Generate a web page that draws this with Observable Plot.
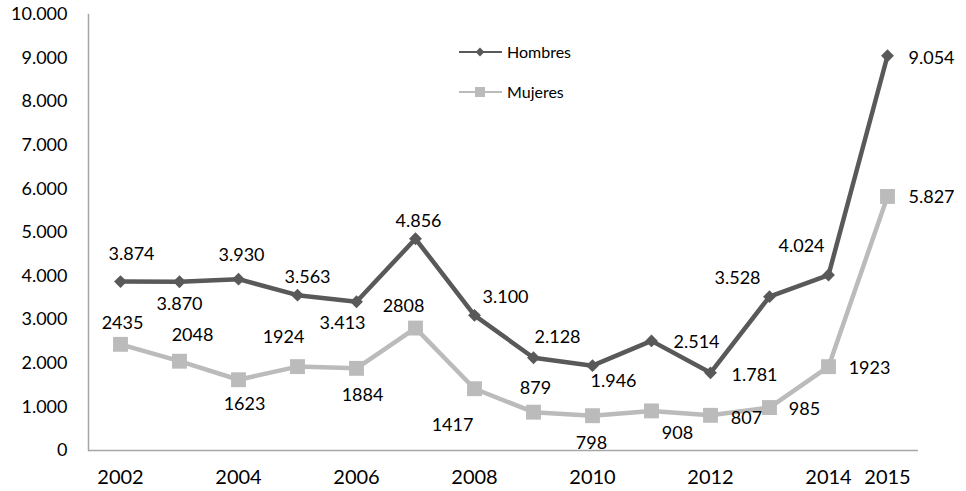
<!DOCTYPE html>
<html>
<head>
<meta charset="utf-8">
<script src="https://cdn.jsdelivr.net/npm/d3@7"></script>
<script src="https://cdn.jsdelivr.net/npm/@observablehq/plot@0.6"></script>
<style>
  html, body { margin: 0; padding: 0; background: #fff; }
  #chart { width: 966px; height: 491px; }
</style>
</head>
<body>
<div id="chart"></div>
<script>
// ---- data ----
const years = [2002, 2003, 2004, 2005, 2006, 2007, 2008, 2009, 2010, 2011, 2012, 2013, 2014, 2015];
const hombres = [3874, 3870, 3930, 3563, 3413, 4856, 3100, 2128, 1946, 2514, 1781, 3528, 4024, 9054];
const mujeres = [2435, 2048, 1623, 1924, 1884, 2808, 1417, 879, 798, 908, 807, 985, 1923, 5827];
const xTickLabels = [2002, 2004, 2006, 2008, 2010, 2012, 2014, 2015];
const yTicks = [0, 1000, 2000, 3000, 4000, 5000, 6000, 7000, 8000, 9000, 10000];
const seriesNames = ["Hombres", "Mujeres"];

// ---- label placement (pixel offsets, layout only) ----
const hombresLabelDx = [11, 0, 3, 10, -14, 3, 31, 24, 21, 45, 44, -32, -27, 44];
const hombresLabelDy = [-27, 22, -24, -18, 22, -18, -18, -20, 16, 1, 2, -18, -29, 2];
const mujeresLabelDx = [2, 13, 6, -14, 6, -12, -22, 2, -1, 26, 36, 35, 41, 44];
const mujeresLabelDy = [-21, -26, 24, -29, 27, -22, 37, -24, 28, 22, 3, 2, 2, 1];

// ---- styles ----
const colH = "#595959";
const colM = "#BBBBBB";
const axisCol = "#A6A6A6";
const fontFam = "Lato, 'Open Sans', sans-serif";

const locale = d3.formatLocale({decimal: ",", thousands: ".", grouping: [3], currency: ["", ""]});
const fmt = locale.format(",d");

const hRows = years.map((year, i) => ({year, value: hombres[i], label: fmt(hombres[i])}));
const mRows = years.map((year, i) => ({year, value: mujeres[i], label: i === years.length - 1 ? fmt(mujeres[i]) : String(mujeres[i])}));

const hLabels = hRows.map((d, i) => Plot.text([d], {x: "year", y: "value", text: "label", dx: hombresLabelDx[i], dy: hombresLabelDy[i], fontSize: 18}));
const mLabels = mRows.map((d, i) => Plot.text([d], {x: "year", y: "value", text: "label", dx: mujeresLabelDx[i], dy: mujeresLabelDy[i], fontSize: 18}));

const chart = Plot.plot({
  width: 966,
  height: 491,
  marginLeft: 88,
  marginRight: 48,
  marginTop: 14,
  marginBottom: 41,
  style: {fontFamily: fontFam, fontSize: "18px", color: "#000", background: "#fff"},
  x: {type: "point", domain: years, padding: 0.5},
  y: {domain: [0, 10000]},
  marks: [
    Plot.axisY({ticks: yTicks, tickSize: 0, tickPadding: 21, tickFormat: fmt, label: null, fontSize: 18}),
    Plot.axisX({ticks: xTickLabels, tickSize: 0, tickPadding: 19, tickFormat: d => String(d), label: null, fontSize: 20}),
    Plot.frame({anchor: "left", stroke: axisCol, strokeWidth: 1.5, strokeOpacity: 1}),
    Plot.ruleY([0], {stroke: axisCol, strokeWidth: 1.5}),
    Plot.line(mRows, {x: "year", y: "value", stroke: colM, strokeWidth: 4.5}),
    Plot.dot(mRows, {x: "year", y: "value", symbol: "square", r: 8.4, fill: colM, stroke: null}),
    Plot.line(hRows, {x: "year", y: "value", stroke: colH, strokeWidth: 4.5}),
    Plot.dot(hRows, {x: "year", y: "value", symbol: "diamond2", r: 5.8, fill: colH, stroke: null}),
    ...hLabels,
    ...mLabels
  ]
});

// ---- legend inside plot area ----
const svg = d3.select(chart);
const legend = svg.append("g")
  .attr("font-family", fontFam)
  .attr("font-size", 16)
  .attr("text-anchor", "start");
const legendItems = [
  {name: seriesNames[0], color: colH, y: 52, shape: "diamond"},
  {name: seriesNames[1], color: colM, y: 92, shape: "square"}
];
legendItems.forEach(it => {
  legend.append("line").attr("x1", 459).attr("x2", 502).attr("y1", it.y).attr("y2", it.y)
    .attr("stroke", it.color).attr("stroke-width", 2.2);
  if (it.shape === "diamond") {
    legend.append("path").attr("d", d3.symbol(d3.symbolDiamond2, 50)()).attr("transform", `translate(480,${it.y})`).attr("fill", it.color);
  } else {
    legend.append("rect").attr("x", 475).attr("y", it.y - 5).attr("width", 10).attr("height", 10).attr("fill", it.color);
  }
  legend.append("text").attr("x", 507).attr("y", it.y).attr("dy", "0.35em")
    .attr("text-anchor", "start").attr("fill", "#000").text(it.name);
});

document.getElementById("chart").appendChild(chart);
</script>
</body>
</html>
